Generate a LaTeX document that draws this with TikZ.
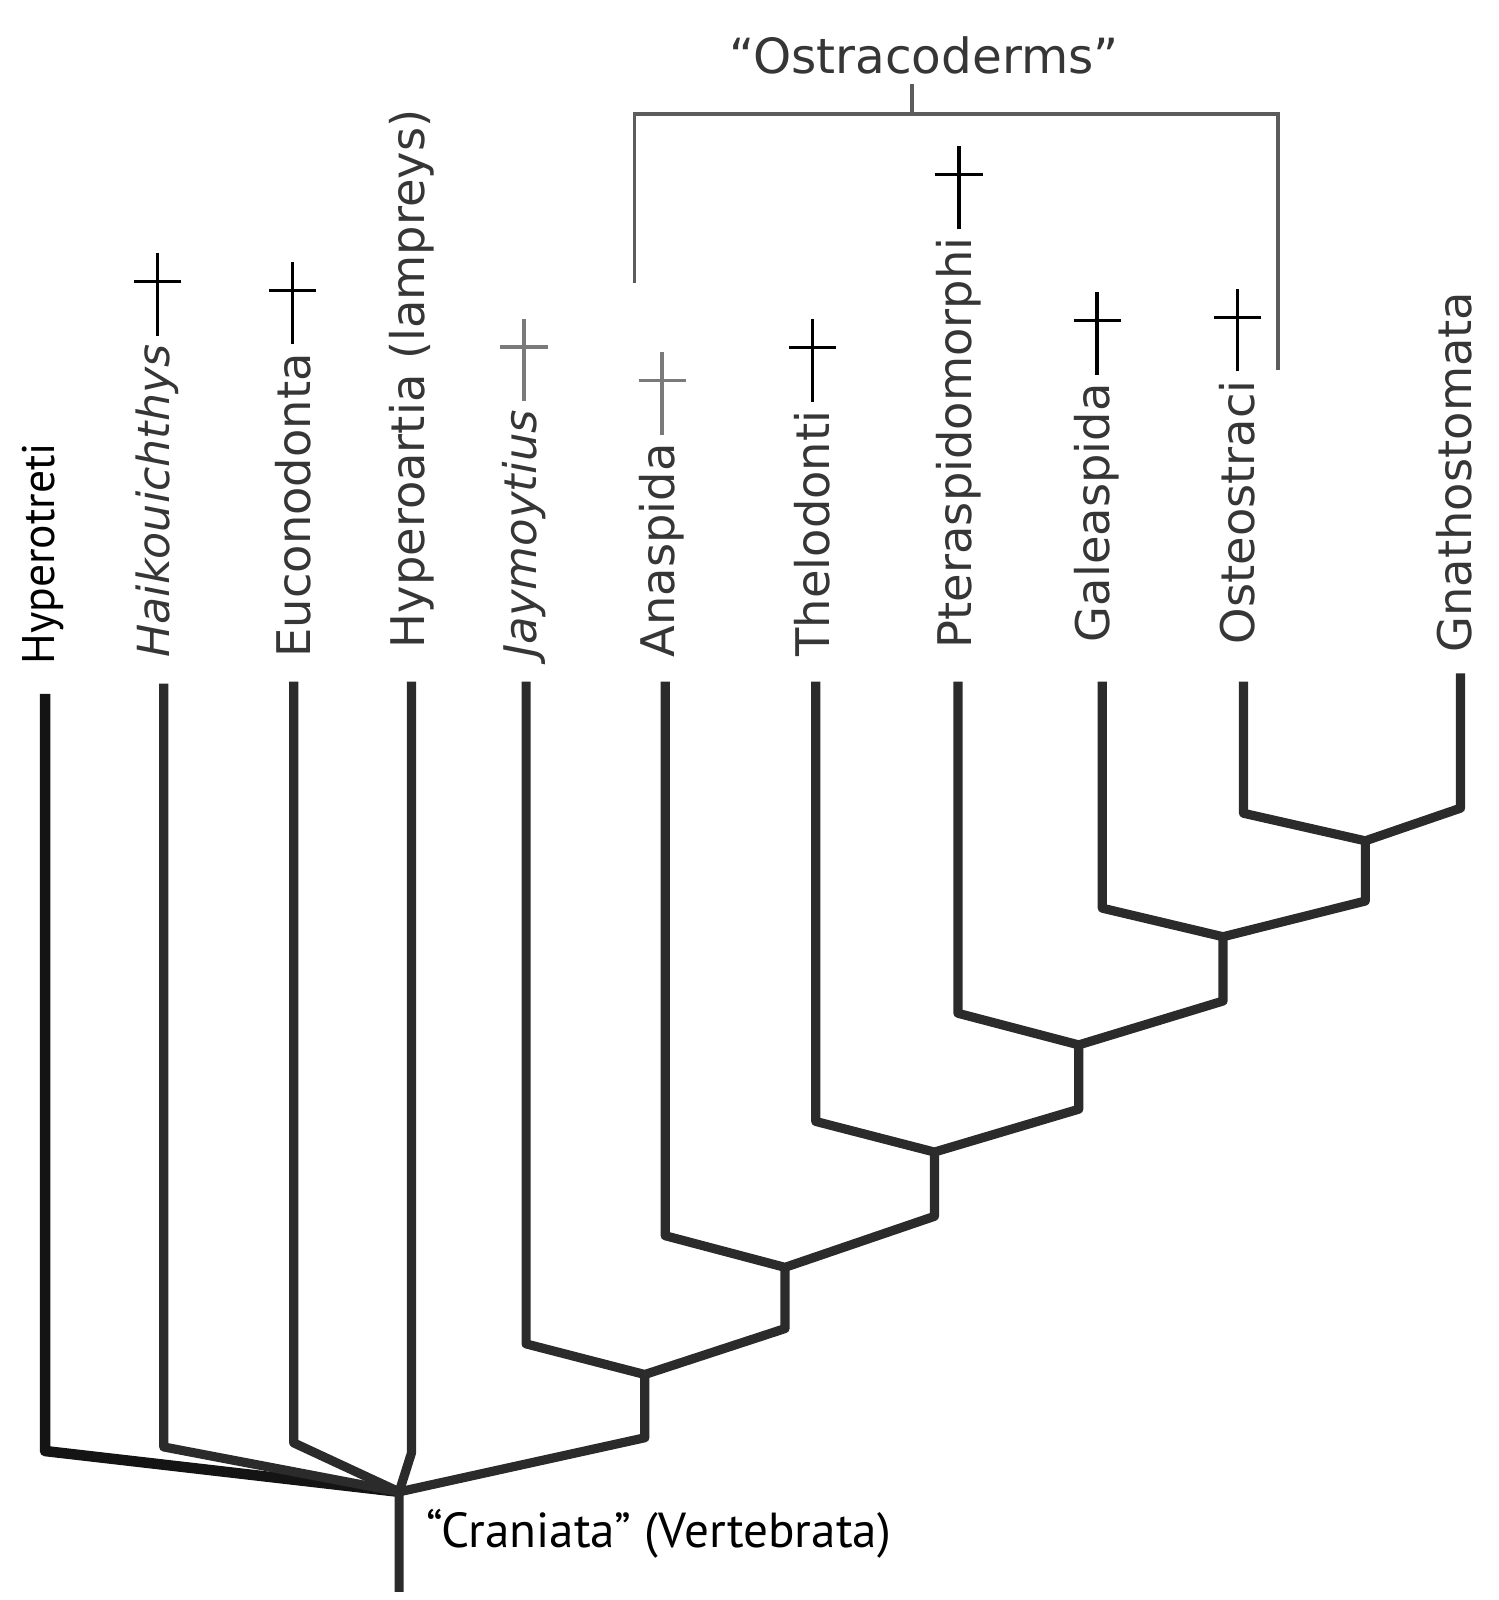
\documentclass[tikz,border=0pt]{standalone}
\usepackage{fontspec}
\setmainfont{DejaVu Sans}
\newfontfamily\ptsans{PT Sans}
\usetikzlibrary{positioning}
\definecolor{branchcol}{HTML}{2B2B2B}
\definecolor{labelcol}{HTML}{363636}
\definecolor{bracketcol}{HTML}{5C5C5C}
\definecolor{crosscol}{HTML}{7A7A7A}
\tikzstyle{branch} = [line width=2.6pt, draw=branchcol, line join=round]
\tikzstyle{rootline} = [line width=3pt, draw=black!92, line join=round]
\tikzstyle{bracket} = [line width=1.1pt, draw=bracketcol]
\tikzstyle{taxon} = [rotate=90, anchor=west, inner sep=0pt, text=labelcol, font=\fontsize{13.2}{15}\selectfont]
\tikzset{extinct/.pic={
  \draw[line width=1pt] (0,-8) -- (0,-89);
  \draw[line width=1pt] (-23,-61) -- (23,-61);
}}

\begin{document}
\begin{tikzpicture}[x=0.010246cm, y=-0.010204cm]
\useasboundingbox (0,0) rectangle (1464,1568);

% taxa
\node (hyt) [taxon, text=black, font=\ptsans\fontsize{13}{15}\selectfont] at (42,652) {Hyperotreti};
\node (hai) [taxon, font=\itshape\fontsize{12.6}{15}\selectfont] at (154,645) {Haikouichthys};
\node (euc) [taxon] at (286,645) {Euconodonta};
\node (hya) [taxon] at (402,636) {Hyperoartia (lampreys)};
\node (jay) [taxon, font=\itshape\fontsize{12.8}{15}\selectfont] at (512,645) {Jaymoytius};
\node (ana) [taxon] at (647,645) {Anaspida};
\node (the) [taxon] at (794,644) {Thelodonti};
\node (pte) [taxon] at (937,636) {Pteraspidomorphi};
\node (gal) [taxon] at (1072,630) {Galeaspida};
\node (ost) [taxon] at (1209,632) {Osteostraci};
\node (gna) [taxon] at (1421,640) {Gnathostomata};

\path (hai.east) pic {extinct};
\path (euc.east) pic {extinct};
\path (jay.east) pic[crosscol] {extinct};
\path (ana.east) pic[crosscol] {extinct};
\path (the.east) pic {extinct};
\path (pte.east) pic {extinct};
\path (gal.east) pic {extinct};
\path (ost.east) pic {extinct};

% tips
\coordinate (t1) at (44,680);    \coordinate (b1) at (44,1422);
\coordinate (t2) at (160,670);   \coordinate (b2) at (160,1418);
\coordinate (t3) at (287,668);   \coordinate (b3) at (287,1414);
\coordinate (t4) at (402,668);   \coordinate (b4) at (402,1424);
\coordinate (t5) at (514,668);   \coordinate (b5) at (514,1317);
\coordinate (t6) at (650,668);   \coordinate (b6) at (650,1211);
\coordinate (t7) at (797,668);   \coordinate (b7) at (797,1099);
\coordinate (t8) at (936,668);   \coordinate (b8) at (936,993);
\coordinate (t9) at (1077,668);  \coordinate (b9) at (1077,890);
\coordinate (t10) at (1215,668); \coordinate (b10) at (1215,797);
\coordinate (t11) at (1427,660); \coordinate (b11) at (1427,792);

% inner nodes
\coordinate (root) at (390,1462);
\coordinate (base) at (390,1560);
\coordinate (n1) at (630,1347);  \coordinate (f1) at (630,1409);
\coordinate (n2) at (767,1242);  \coordinate (f2) at (767,1302);
\coordinate (n3) at (913,1129);  \coordinate (f3) at (913,1192);
\coordinate (n4) at (1054,1024); \coordinate (f4) at (1054,1087);
\coordinate (n5) at (1195,918);  \coordinate (f5) at (1195,981);
\coordinate (n6) at (1334,824);  \coordinate (f6) at (1334,883);

\draw [rootline] (t1) -- (b1) -- (root);
\draw [branch] (t2) -- (b2) -- (root);
\draw [branch] (t3) -- (b3) -- (root);
\draw [branch] (t4) -- (b4) -- (root);
\draw [branch] (base) -- (root) -- (f1) -- (n1);
\draw [branch] (t5) -- (b5) -- (n1);
\draw [branch] (n1) -- (f2) -- (n2);
\draw [branch] (t6) -- (b6) -- (n2) -- (f3) -- (n3);
\draw [branch] (t7) -- (b7) -- (n3) -- (f4) -- (n4);
\draw [branch] (t8) -- (b8) -- (n4) -- (f5) -- (n5);
\draw [branch] (t9) -- (b9) -- (n5) -- (f6) -- (n6);
\draw [branch] (t10) -- (b10) -- (n6) -- (b11) -- (t11);

\node (cran) [anchor=base west, inner sep=0pt, font=\ptsans\fontsize{14}{16}\selectfont] at (416,1517) {“Craniata” (Vertebrata)};

% ostracoderms bracket
\node (ostr) [anchor=base, inner sep=0pt, text=labelcol, font=\fontsize{13.8}{16}\selectfont] at (903,72) {“Ostracoderms”};
\coordinate (brl) at (620,277);
\coordinate (brr) at (1249,363);
\coordinate (tick) at (891,112);
\draw [bracket] (brl) |- (tick) -| (brr);
\draw [bracket] (tick) -- ++(0,-30);
\end{tikzpicture}
\end{document}
